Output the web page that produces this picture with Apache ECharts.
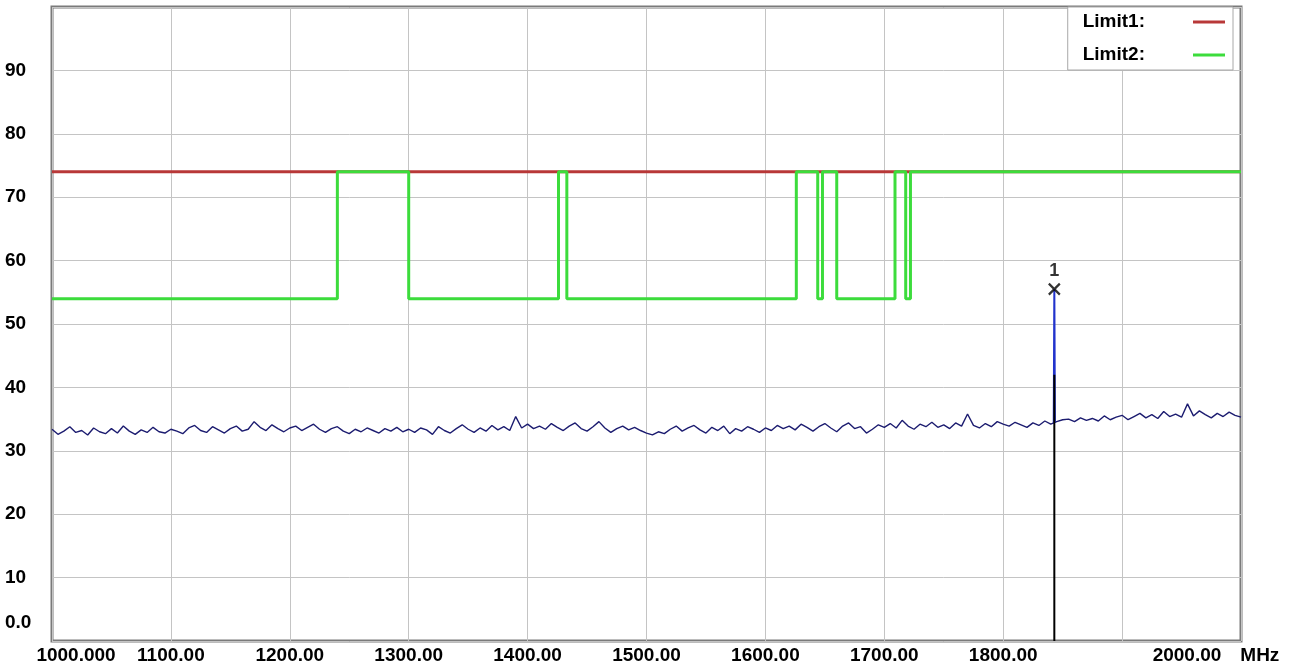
<!DOCTYPE html>
<html>
<head>
<meta charset="utf-8">
<script src="https://cdn.jsdelivr.net/npm/echarts@6/dist/echarts.min.js"></script>
<style>
html,body{margin:0;padding:0;background:#fff;}
#chart{width:1295px;height:668px;}
</style>
</head>
<body>
<div id="chart"></div>
<script>
// ---- data ----
const xTickValues = [1000, 1100, 1200, 1300, 1400, 1500, 1600, 1700, 1800, 1900, 2000];
const xTickLabels = ['1000.000', '1100.00', '1200.00', '1300.00', '1400.00', '1500.00', '1600.00', '1700.00', '1800.00', '', '2000.00'];
const xUnit = 'MHz';
const yTickValues = [0, 10, 20, 30, 40, 50, 60, 70, 80, 90, 100];
const yTickLabels = ['0.0', '10', '20', '30', '40', '50', '60', '70', '80', '90', ''];

const limit1Freq = [1000, 2000];
const limit1Level = [74, 74];

const limit2Freq = [1000, 1240, 1300, 1426, 1433, 1626, 1644, 1648, 1660, 1709, 1718, 1722, 2000];
const limit2Level = [54, 74, 54, 74, 54, 74, 54, 74, 54, 74, 54, 74, 74];

// trace sampled every 5 MHz from 1000 to 2000
const traceStartFreq = 1000;
const traceStepFreq = 5;
const traceLevel = [
  33.4, 32.6, 33.1, 33.8, 32.9, 33.2, 32.5, 33.6, 33.0, 32.7, 33.5, 32.8, 33.9, 33.1, 32.6, 33.3, 32.9, 33.7, 33.0, 32.8,
  33.4, 33.1, 32.7, 33.6, 34.0, 33.2, 32.9, 33.8, 33.3, 32.8, 33.5, 33.9, 33.1, 33.4, 34.6, 33.7, 33.2, 34.1, 33.5, 33.0,
  33.6, 33.9, 33.2, 33.7, 34.2, 33.4, 32.9, 33.5, 33.8, 33.1, 32.7, 33.4, 33.0, 33.6, 33.2, 32.8, 33.5, 33.1, 33.7, 33.0,
  33.4, 32.9, 33.6, 33.3, 32.6, 33.8, 33.2, 32.8, 33.5, 34.1, 33.4, 32.9, 33.6, 33.1, 34.0, 33.3, 33.8, 33.2, 35.4, 33.6,
  34.2, 33.5, 33.9, 33.4, 34.3, 33.7, 33.2, 33.9, 34.4, 33.5, 33.1, 33.8, 34.6, 33.6, 32.9, 33.5, 33.9, 33.3, 33.7, 33.2,
  32.8, 32.5, 33.0, 32.7, 33.4, 33.9, 33.1, 33.6, 34.0, 33.3, 32.8, 33.7, 33.2, 33.9, 32.7, 33.5, 33.1, 33.8, 33.4, 32.9,
  33.6, 33.2, 34.0, 33.5, 33.9, 33.3, 34.2, 33.7, 33.1, 33.8, 34.3, 33.6, 33.0, 33.9, 34.4, 33.5, 33.8, 32.8, 33.4, 34.1,
  33.7, 34.3, 33.6, 34.8, 33.9, 33.4, 34.2, 33.8, 34.5, 33.7, 34.1, 33.5, 34.4, 33.9, 35.8, 34.0, 33.6, 34.3, 33.8, 34.6,
  34.2, 33.9, 34.5, 34.1, 33.7, 34.4, 34.0, 34.7, 34.2, 34.6, 34.9, 35.0, 34.6, 35.2, 34.8, 35.1, 34.7, 35.5, 34.9, 35.3,
  35.6, 34.9, 35.4, 35.9, 35.2, 35.7, 35.1, 36.2, 35.4, 35.8, 35.3, 37.4, 35.5, 36.3, 35.7, 35.2, 35.9, 35.4, 36.1, 35.6,
  35.3
];

const spikeFreq = [1842.5, 1843, 1843.5];
const spikeLevel = [34.3, 55.5, 34.5];

const dropFreq = [1843, 1843];
const dropLevel = [42, 0];

const markerFreq = 1843;
const markerLevel = 55.5;
const markerLabel = '1';

// ---- chart ----
const FONT = "'Liberation Sans', Arial, sans-serif";
const pair = (xs, ys) => xs.map((x, i) => [x, ys[i]]);
const traceData = traceLevel.map((v, i) => [traceStartFreq + i * traceStepFreq, v]);

const chart = echarts.init(document.getElementById('chart'), null, {renderer: 'canvas'});
chart.setOption({
  animation: false,
  backgroundColor: '#fff',
  grid: {
    left: 52, right: 54, top: 7, bottom: 27,
    show: true, backgroundColor: '#fff',
    borderColor: '#7a7a7a', borderWidth: 3
  },
  legend: {
    data: ['Limit1:', 'Limit2:'],
    orient: 'vertical',
    align: 'right',
    right: 62, top: 7,
    padding: [5, 8, 5, 15],
    itemGap: 13,
    itemWidth: 32, itemHeight: 3,
    icon: 'rect',
    backgroundColor: '#fff',
    borderColor: '#a8a8a8', borderWidth: 1,
    selectedMode: false,
    formatter: name => '{t|' + name + '}',
    textStyle: {
      color: '#000', fontSize: 19, fontWeight: 'bold', fontFamily: FONT, lineHeight: 20,
      rich: {t: {color: '#000', fontSize: 19, fontWeight: 'bold', fontFamily: FONT, lineHeight: 20, padding: [0, 43, 0, 0]}}
    }
  },
  xAxis: {
    type: 'value', min: 1000, max: 2000, interval: 100,
    axisLine: {show: false}, axisTick: {show: false},
    splitLine: {show: true, lineStyle: {color: '#c4c4c4', width: 1}},
    axisLabel: {
      show: true, interval: 0, margin: 5, showMinLabel: true, showMaxLabel: true,
      color: '#000', fontSize: 19, fontWeight: 'bold', fontFamily: FONT,
      formatter: v => {
        const i = xTickValues.indexOf(v);
        const s = i >= 0 ? xTickLabels[i] : '';
        if (s === '') return '';
        if (i === 0) return '{f|' + s + '}';
        if (i === xTickValues.length - 1) return '{l|' + s + '}{u|' + xUnit + '}';
        return s;
      },
      rich: {
        f: {color: '#000', fontSize: 19, fontWeight: 'bold', fontFamily: FONT, padding: [0, 0, 0, 48]},
        l: {color: '#000', fontSize: 19, fontWeight: 'bold', fontFamily: FONT},
        u: {color: '#000', fontSize: 19, fontWeight: 'bold', fontFamily: FONT, padding: [0, 50, 0, 19]}
      }
    }
  },
  yAxis: {
    type: 'value', min: 0, max: 100, interval: 10,
    axisLine: {show: false}, axisTick: {show: false},
    splitLine: {show: true, lineStyle: {color: '#c4c4c4', width: 1}},
    axisLabel: {
      show: true, margin: 47, align: 'left', showMinLabel: true, showMaxLabel: true,
      color: '#000', fontSize: 19, fontWeight: 'bold', fontFamily: FONT,
      formatter: v => {
        const i = yTickValues.indexOf(v);
        const s = i >= 0 ? yTickLabels[i] : '';
        if (s === '') return '';
        if (i === 0) return '{z|' + s + '}';
        return s;
      },
      rich: {
        z: {color: '#000', fontSize: 19, fontWeight: 'bold', fontFamily: FONT, padding: [0, 0, 36, 0]}
      }
    }
  },
  series: [
    {
      name: 'Limit1:', type: 'line', data: pair(limit1Freq, limit1Level),
      showSymbol: false, symbol: 'none', color: '#b83838',
      lineStyle: {color: '#b83838', width: 3}, z: 2
    },
    {
      name: 'Limit2:', type: 'line', step: 'end', data: pair(limit2Freq, limit2Level),
      showSymbol: false, symbol: 'none', color: '#3cdc3c',
      lineStyle: {color: '#3cdc3c', width: 3}, z: 3
    },
    {
      name: 'Trace', type: 'line', data: traceData,
      showSymbol: false, symbol: 'none', color: '#1c1c70',
      lineStyle: {color: '#1c1c70', width: 1.4}, z: 4
    },
    {
      name: 'Peak', type: 'line', data: pair(spikeFreq, spikeLevel),
      showSymbol: false, symbol: 'none', color: '#2233cc',
      lineStyle: {color: '#2233cc', width: 2}, z: 5
    },
    {
      name: 'Drop', type: 'line', data: pair(dropFreq, dropLevel),
      showSymbol: false, symbol: 'none', color: '#000',
      lineStyle: {color: '#000', width: 2}, z: 6
    },
    {
      name: 'Marker', type: 'scatter', data: [[markerFreq, markerLevel]],
      symbol: 'path://M0,0L10,10M10,0L0,10', symbolSize: 11,
      itemStyle: {color: 'none', borderColor: '#000', borderWidth: 2.2},
      label: {
        show: true, position: 'top', distance: 1, formatter: markerLabel,
        color: '#000', fontSize: 18, fontWeight: 'bold', fontFamily: FONT
      },
      z: 7
    }
  ]
});
</script>
</body>
</html>
